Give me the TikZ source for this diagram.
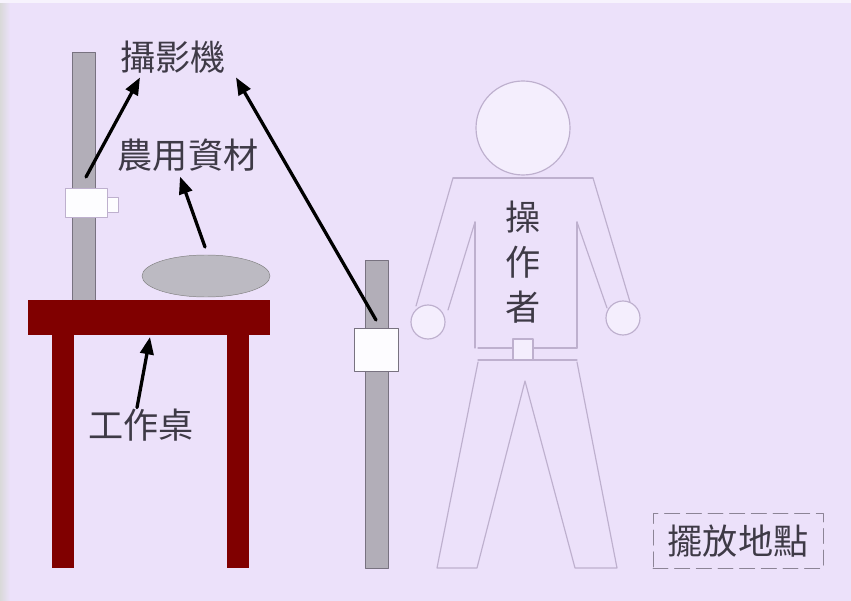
\documentclass[tikz,border=0pt]{standalone}
\usepackage{fontspec}
\newfontfamily\cjk{Noto Sans CJK TC}
\usetikzlibrary{arrows.meta}
\definecolor{slide}{RGB}{236,225,250}
\definecolor{ink}{RGB}{62,58,70}
\definecolor{deskred}{RGB}{128,0,0}
\definecolor{polegray}{RGB}{178,174,184}
\definecolor{poleedge}{RGB}{120,114,128}
\definecolor{matgray}{RGB}{188,186,194}
\definecolor{figline}{RGB}{190,176,206}
\definecolor{figfill}{RGB}{244,238,253}
\definecolor{boxedge}{RGB}{140,132,150}

\begin{document}
\begin{tikzpicture}[x=0.3mm, y=-0.3mm, line join=round, line cap=round,
	>={Triangle[length=5.2mm, width=4mm]},
	lbl/.style={font=\cjk\fontsize{30}{38.5}\selectfont, text=ink, inner sep=0pt},
	pointer/.style={->, line width=2.8pt, black}]
	\useasboundingbox (0,0) rectangle (851,601);
	\fill[slide] (0,0) rectangle (851,601);
	\fill[left color=gray!30, right color=slide] (0,0) rectangle (10,601);
	\fill[white!60!slide] (0,0) rectangle (851,3);

	\def\pole#1#2#3{
		\filldraw[fill=polegray, draw=poleedge] (#1,#2) rectangle (#1+23,#3);
	}
	% camera stands
	\pole{72}{52}{300}
	\pole{365}{260}{568}
	\filldraw[fill=white!92!slide, draw=figline] (65,188) rectangle (107,217);
	\filldraw[fill=white!92!slide, draw=figline] (107,197) rectangle (118,212);
	\filldraw[fill=white!90!slide, draw=poleedge] (354,328) rectangle (398,371);

	% desk
	\fill[deskred] (28,300) rectangle (270,335);
	\foreach \x in {52,227} {
		\fill[deskred] (\x,335) rectangle (\x+22,568);
	}
	\filldraw[fill=matgray, draw=gray] (206,276) ellipse [x radius=64, y radius=21];

	% operator
	\begin{scope}[draw=figline, line width=1pt]
		\draw (453,178) -- (593,178);
		\draw (453,178) -- (416,306);
		\draw (475,222) -- (448,310);
		\draw (593,178) -- (630,302);
		\draw (577,222) -- (607,308);
		\draw (475,222) -- (475,348);
		\draw (577,222) -- (577,348);
		\draw (478,348) -- (577,348);
		\draw (478,360) -- (577,360);
		\draw (478,362) -- (437,568) -- (477,568) -- (525,381) -- (575,568) -- (617,568) -- (577,362);
		\filldraw[fill=figfill] (523,128) circle (47);
		\filldraw[fill=figfill] (428,322) circle (17);
		\filldraw[fill=figfill] (623,318) circle (17);
		\filldraw[fill=figfill] (513,339) rectangle (533,360);
	\end{scope}

	% labels
	\node[lbl] (camtext) at (173,57) {攝影機};
	\node[lbl] (mattext) at (188,155) {農用資材};
	\node[lbl] (desktext) at (141,425) {工作桌};
	\node[lbl, align=center] (optext) at (523,262) {操\\作\\者};
	\node[lbl, draw=boxedge, line width=0.8pt, dash pattern=on 4.5mm off 2mm,
		minimum width=51mm, minimum height=16.5mm] (placetext) at (738,541) {擺放地點};

	\coordinate (lcam) at (86,177);
	\coordinate (rcam) at (376,320);
	\coordinate (mat) at (205,247);
	\coordinate (desktop) at (150,337);
	\draw[pointer] (lcam) -- ([shift={(-33,4)}]camtext.south);
	\draw[pointer] (rcam) -- ([shift={(63,4)}]camtext.south);
	\draw[pointer] (mat) -- ([shift={(-8,5)}]mattext.south);
	\draw[pointer] ([shift={(-4,-1)}]desktext.north) -- (desktop);
\end{tikzpicture}
\end{document}
